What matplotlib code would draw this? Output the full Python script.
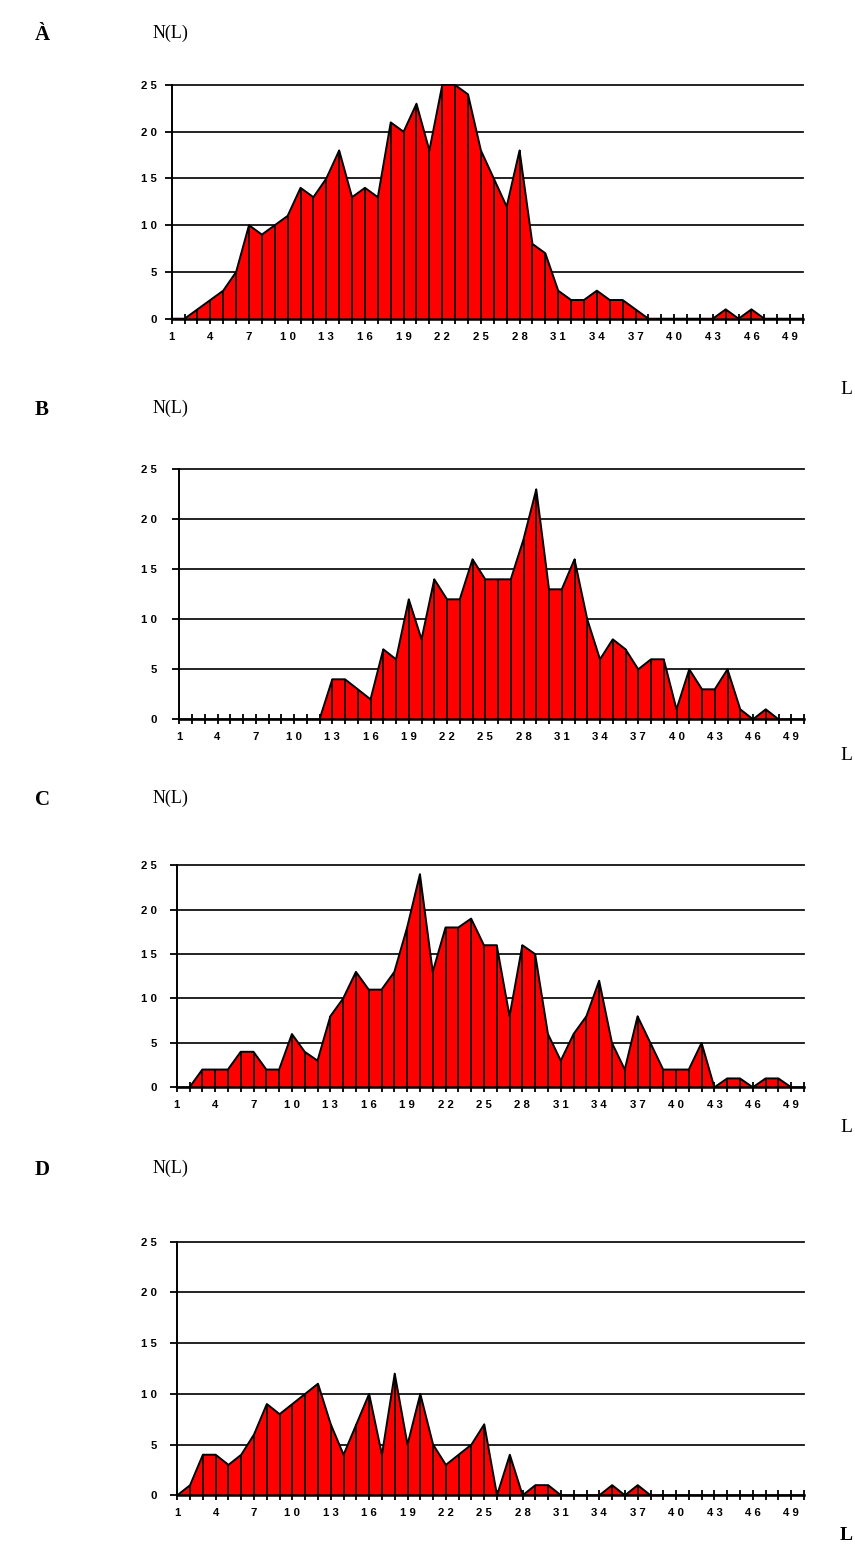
import numpy as np
import matplotlib.pyplot as plt

# length classes L = 1..50
L = np.arange(1, 51)

# N(L) for each panel
n_a = [0, 0, 1, 2, 3, 5, 10, 9, 10, 11,
       14, 13, 15, 18, 13, 14, 13, 21, 20, 23,
       18, 25, 25, 24, 18, 15, 12, 18, 8, 7,
       3, 2, 2, 3, 2, 2, 1, 0, 0, 0,
       0, 0, 0, 1, 0, 1, 0, 0, 0, 0]
n_b = [0, 0, 0, 0, 0, 0, 0, 0, 0, 0,
       0, 0, 4, 4, 3, 2, 7, 6, 12, 8,
       14, 12, 12, 16, 14, 14, 14, 18, 23, 13,
       13, 16, 10, 6, 8, 7, 5, 6, 6, 1,
       5, 3, 3, 5, 1, 0, 1, 0, 0, 0]
n_c = [0, 0, 2, 2, 2, 4, 4, 2, 2, 6,
       4, 3, 8, 10, 13, 11, 11, 13, 18, 24,
       13, 18, 18, 19, 16, 16, 8, 16, 15, 6,
       3, 6, 8, 12, 5, 2, 8, 5, 2, 2,
       2, 5, 0, 1, 1, 0, 1, 1, 0, 0]
n_d = [0, 1, 4, 4, 3, 4, 6, 9, 8, 9,
       10, 11, 7, 4, 7, 10, 4, 12, 5, 10,
       5, 3, 4, 5, 7, 0, 4, 0, 1, 1,
       0, 0, 0, 0, 1, 0, 1, 0, 0, 0,
       0, 0, 0, 0, 0, 0, 0, 0, 0, 0]

panels = ['À', 'B', 'C', 'D']
yticks = [0, 5, 10, 15, 20, 25]

W, H = 855, 1553
fig = plt.figure(figsize=(W / 100, H / 100), dpi=100)

# plot boxes in pixels: left, top, right, bottom
boxes = [(171.7, 85, 803, 318.7),
         (179.3, 469.3, 804, 719.3),
         (176.7, 865.3, 804, 1087.3),
         (177.3, 1241.7, 804, 1495.3)]
# letter / N(L) / L label heights
label_y = [35, 410, 800, 1170]
l_y = [389, 755, 1127, 1535]

serif = 'Liberation Serif'
sans = 'Liberation Sans'

for i, vals in enumerate([n_a, n_b, n_c, n_d]):
    x0, y0, x1, y1 = boxes[i]
    ax = fig.add_axes([x0 / W, 1 - y1 / H, (x1 - x0) / W, (y1 - y0) / H])
    ax.set_xlim(1, 50)
    ax.set_ylim(0, 25)

    for g in yticks[1:]:
        ax.axhline(g, color='#111111', lw=1.3, zorder=1, clip_on=False)
    ax.fill_between(L, vals, 0, facecolor='#ff0000', lw=0, zorder=2)
    ax.vlines(L, 0, vals, color='black', lw=1.2, zorder=3)
    ax.plot(L, vals, color='black', lw=1.4, zorder=4, clip_on=False)

    for s in ['top', 'right']:
        ax.spines[s].set_visible(False)
    ax.spines['left'].set_linewidth(1.4)
    ax.spines['bottom'].set_linewidth(1.8)
    ax.spines['bottom'].set_zorder(5)

    ax.set_xticks(L)
    ax.set_xticklabels([' '.join(str(v)) if (v - 1) % 3 == 0 else '' for v in L])
    ax.set_yticks(yticks)
    ax.set_yticklabels([' '.join(str(v)) for v in yticks])
    ypad = (x0 - 157 - 7) * 0.72
    ax.tick_params(axis='x', direction='inout', length=7, width=1.3, pad=6)
    ax.tick_params(axis='y', direction='out', length=5, width=1.3, pad=ypad)
    for t in ax.get_xticklabels() + ax.get_yticklabels():
        t.set_fontfamily(sans)
        t.set_fontsize(8.2)
        t.set_fontweight('bold')

    fig.text(42 / W, 1 - label_y[i] / H, panels[i], fontfamily=serif,
             fontweight='bold', fontsize=15, ha='center', va='center')
    fig.text(153 / W, 1 - (label_y[i] - 2) / H, 'N(L)', fontfamily=serif,
             fontsize=13, ha='left', va='center')
    fig.text(846 / W, 1 - l_y[i] / H, 'L', fontfamily=serif, fontsize=14,
             fontweight='bold' if i == 3 else 'normal', ha='center', va='center')

fig.savefig('out.png', dpi=100)
